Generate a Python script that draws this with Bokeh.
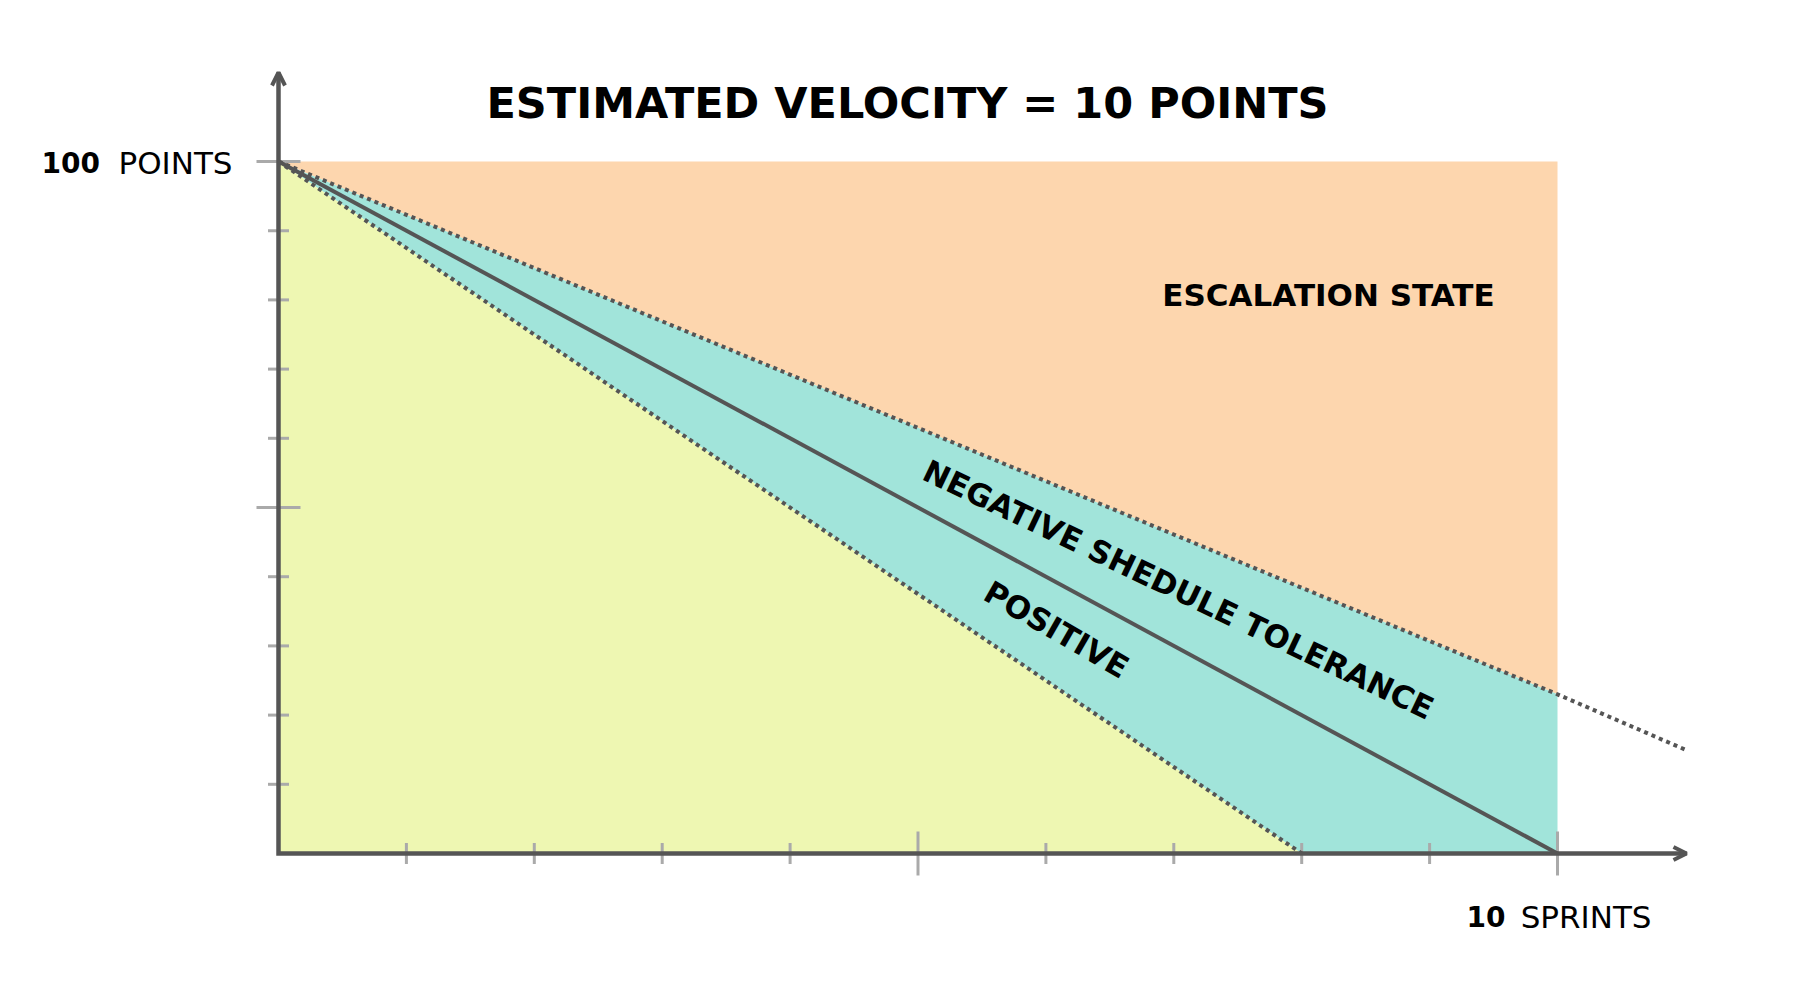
import math
from bokeh.plotting import figure
from bokeh.models import Range1d, Arrow, OpenHead
from bokeh.core.properties import value
from bokeh.embed import file_html
from bokeh.resources import INLINE

# ---- data ----
ideal_x = [0, 10]          # sprints
ideal_y = [100, 0]         # points remaining
upper_x = [0, 10, 11]      # negative tolerance boundary (dotted)
upper_y = [100, 23, 15]
lower_x = [0, 8]           # positive boundary (dotted)
lower_y = [100, 0]
x_ticks = [1, 2, 3, 4, 5, 6, 7, 8, 9, 10]
x_major = [5, 10]
y_ticks = [10, 20, 30, 40, 50, 60, 70, 80, 90, 100]
y_major = [50, 100]

title_text = "ESTIMATED VELOCITY = 10 POINTS"
y_label_num, y_label_txt = "100", "POINTS"
x_label_num, x_label_txt = "10", "SPRINTS"
zone_escalation = "ESCALATION STATE"
zone_negative = "NEGATIVE SHEDULE TOLERANCE"
zone_positive = "POSITIVE"

# ---- page geometry: page pixel -> data ----
X0_PX, XU_PX = 279.0, 127.9    # x=0 at page px 279, px per sprint
Y0_PX, YU_PX = 854.0, 6.92     # y=0 at page px 854, px per point
W, H = 1784, 984
OFF = 1                        # measured offset of the frame on the page


def dx(px):
    return (px - X0_PX) / XU_PX


def dy(py):
    return (Y0_PX - py) / YU_PX


p = figure(width=W, height=H, output_backend="svg", toolbar_location=None,
           x_range=Range1d(dx(OFF), dx(OFF + W)), y_range=Range1d(dy(OFF + H), dy(OFF)),
           min_border=0, x_axis_location=None, y_axis_location=None,
           outline_line_color=None, background_fill_color="white",
           border_fill_color="white")
p.grid.visible = False

AX = "#555555"
TICK = "#aaaaaa"

# ---- zones ----
p.patch([ideal_x[0], upper_x[1], upper_x[1]], [ideal_y[0], ideal_y[0], upper_y[1]],
        fill_color="#fdd6ae", line_color=None)
p.patch([ideal_x[0], upper_x[1], ideal_x[1], lower_x[1]],
        [ideal_y[0], upper_y[1], ideal_y[1], lower_y[1]],
        fill_color="#a1e4da", line_color=None)
p.patch([lower_x[0], lower_x[1], 0], [lower_y[0], lower_y[1], 0],
        fill_color="#eef7b2", line_color=None)

# ---- ticks ----
small = 10.5
big = 22
xs_len = [big if t in x_major else small for t in x_ticks]
p.segment(x0=x_ticks, x1=x_ticks,
          y0=[-l / YU_PX for l in xs_len], y1=[l / YU_PX for l in xs_len],
          line_color=TICK, line_width=3)
ys_len = [big if t in y_major else small for t in y_ticks]
p.segment(x0=[-l / XU_PX for l in ys_len], x1=[l / XU_PX for l in ys_len],
          y0=y_ticks, y1=y_ticks, line_color=TICK, line_width=3)

# ---- lines ----
p.line(upper_x, upper_y, line_color=AX, line_width=4, line_dash="4 4")
p.line(lower_x, lower_y, line_color=AX, line_width=4, line_dash="4 4")
p.line(ideal_x, ideal_y, line_color=AX, line_width=4)

# ---- axes with arrows ----
x_end = dx(1687)
y_end = dy(73)
p.line([0, 0, x_end], [y_end, 0, 0], line_color=AX, line_width=4.5,
       line_join="miter")
p.add_layout(Arrow(end=OpenHead(size=13, line_color=AX, line_width=4),
                   x_start=0, y_start=y_end - 5, x_end=0, y_end=y_end,
                   line_alpha=0))
p.add_layout(Arrow(end=OpenHead(size=13, line_color=AX, line_width=4),
                   x_start=x_end - 0.5, y_start=0, x_end=x_end, y_end=0,
                   line_alpha=0))

# ---- texts ----
FONT = value("DejaVu Sans")
p.text(x=[dx(908)], y=[dy(103)], text=[title_text], text_font=FONT,
       text_font_style="bold", text_font_size="43px", text_color="black",
       text_align="center", text_baseline="middle")

p.text(x=[dx(42)], y=[dy(163)], text=[y_label_num], text_font=FONT,
       text_font_style="bold", text_font_size="28px", text_color="black",
       text_align="left", text_baseline="middle")
p.text(x=[dx(233)], y=[dy(163)], text=[y_label_txt], text_font=FONT,
       text_font_size="31px", text_color="black",
       text_align="right", text_baseline="middle")

p.text(x=[dx(1467)], y=[dy(917)], text=[x_label_num], text_font=FONT,
       text_font_style="bold", text_font_size="28px", text_color="black",
       text_align="left", text_baseline="middle")
p.text(x=[dx(1652)], y=[dy(917)], text=[x_label_txt], text_font=FONT,
       text_font_size="31px", text_color="black",
       text_align="right", text_baseline="middle")

p.text(x=[dx(1329)], y=[dy(295)], text=[zone_escalation], text_font=FONT,
       text_font_style="bold", text_font_size="31px", text_color="black",
       text_align="center", text_baseline="middle")

p.text(x=[dx(1179)], y=[dy(590)], text=[zone_negative], text_font=FONT,
       text_font_style="bold", text_font_size="31px", text_color="black",
       text_align="center", text_baseline="middle",
       angle=-math.radians(25.5))
p.text(x=[dx(1057)], y=[dy(630)], text=[zone_positive], text_font=FONT,
       text_font_style="bold", text_font_size="31px", text_color="black",
       text_align="center", text_baseline="middle",
       angle=-math.radians(30))

open("out.html", "w").write(file_html(p, INLINE))
